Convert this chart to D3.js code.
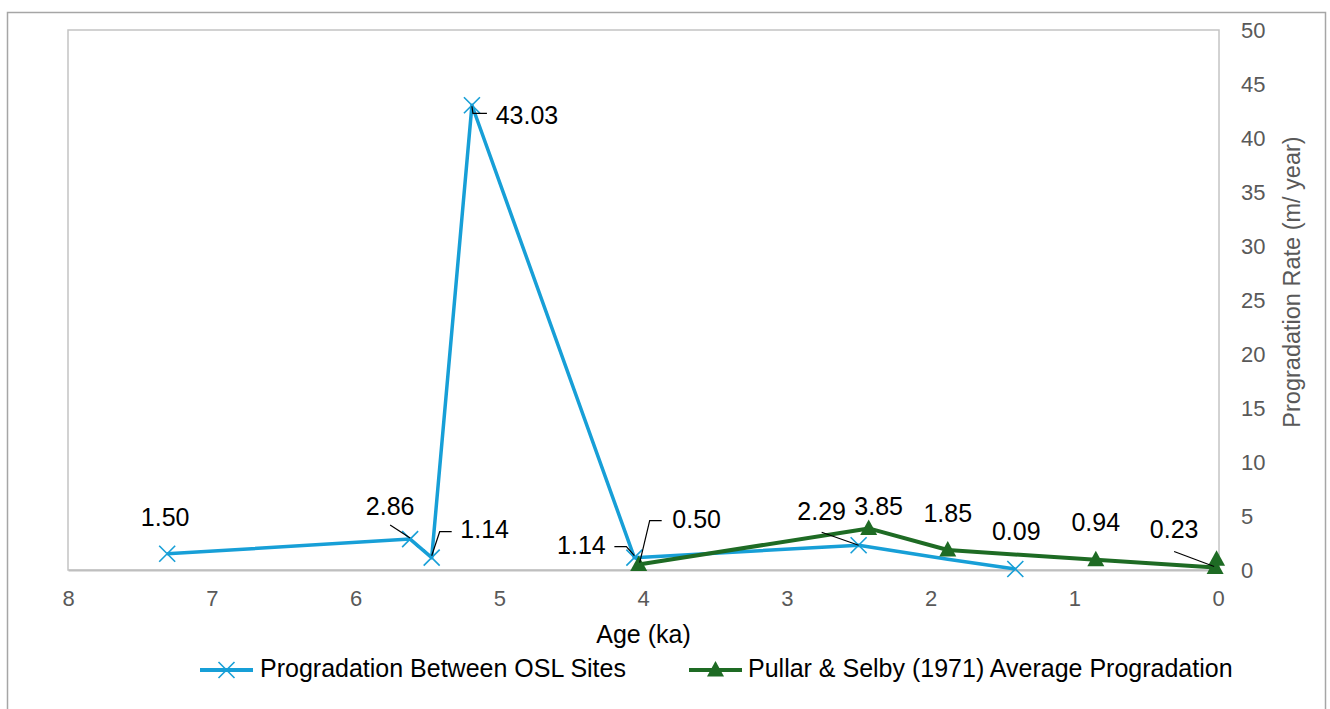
<!DOCTYPE html>
<html>
<head>
<meta charset="utf-8">
<script src="https://cdn.jsdelivr.net/npm/d3@7"></script>
<style>
  body { margin: 0; background: #fff; }
  svg { display: block; font-family: "Liberation Sans", Arial, sans-serif; }
</style>
</head>
<body>
<div id="chart"></div>
<script>
// data
var oslAges   = [7.31, 5.62, 5.47, 5.19, 4.06, 2.50, 1.88, 1.41];
var oslRates  = [1.50, 2.86, 1.14, 43.03, 1.14, 2.29, 1.00, 0.09];
var oslLabels = ["1.50", "2.86", "1.14", "43.03", "1.14", "2.29", "", "0.09"];
var oslMarker = [true, true, true, true, true, true, false, true];

var pullarAges   = [4.03, 2.43, 1.88, 0.85, 0.02, 0.01];
var pullarRates  = [0.50, 3.85, 1.85, 0.94, 0.23, 1.00];
var pullarLabels = ["0.50", "3.85", "1.85", "0.94", "0.23", ""];

var xTicks = [8, 7, 6, 5, 4, 3, 2, 1, 0];
var yTicks = [0, 5, 10, 15, 20, 25, 30, 35, 40, 45, 50];

var seriesNames = ["Progradation Between OSL Sites", "Pullar & Selby (1971) Average Progradation"];

// label placement (pixel offsets from the point) and leader lines
var oslLabelPos = [[-2, -34], [-20, -31], [53, -26], [55, 12], [-53, -10], [-37, -32], null, [1, -36]];
var oslLeaders = [null, [[-20, -14], [0, -1]], [[20, -26], [8, -26], [0, -2]], [[0, 1], [1, 8], [15, 8]],
                  [[-20, -11], [-8, -11], [0, -2]], [[-37, -13], [0, 0]], null, null];
var pullarLabelPos = [[58, -43], [10, -20], [0, -35], [0, -35], [-41, -36], null];
var pullarLeaders = [[[23, -44], [11, -44], [1, -2]], null, null, null, [[-41, -16], [-1, -1]], null];

var W = 1330, H = 709;
var plot = {left: 68, top: 30, right: 1219, bottom: 570};
var blue = "#179fd7", green = "#1e6b24";

var svg = d3.select("#chart").append("svg")
    .attr("width", W).attr("height", H);

// outer chart border
svg.append("rect")
    .attr("x", 7.5).attr("y", 12.5).attr("width", 1318).attr("height", 720)
    .attr("fill", "none").attr("stroke", "#a6a6a6").attr("stroke-width", 1.5);

var x = d3.scaleLinear().domain([8, 0]).range([plot.left, plot.right - 1]);
var y = d3.scaleLinear().domain([0, 50]).range([plot.bottom, plot.top]);

// plot area border
svg.append("rect")
    .attr("x", plot.left).attr("y", plot.top)
    .attr("width", plot.right - plot.left).attr("height", plot.bottom - plot.top)
    .attr("fill", "none").attr("stroke", "#c4c4c4").attr("stroke-width", 1.5);

// x axis
var xAxis = svg.append("g")
    .attr("transform", "translate(0," + plot.bottom + ")")
    .call(d3.axisBottom(x).tickValues(xTicks).tickSize(0).tickPadding(20).tickFormat(d3.format("d")));
xAxis.select(".domain").attr("stroke", "#bfbfbf").attr("stroke-width", 2);
xAxis.selectAll("text").attr("font-size", 22).attr("fill", "#595959")
    .attr("font-family", "Liberation Sans, Arial, sans-serif");

// y axis on the right
var yAxis = svg.append("g")
    .attr("transform", "translate(" + plot.right + ",0)")
    .call(d3.axisRight(y).tickValues(yTicks).tickSize(0).tickPadding(22));
yAxis.select(".domain").remove();
yAxis.selectAll("text").attr("font-size", 22).attr("fill", "#595959")
    .attr("font-family", "Liberation Sans, Arial, sans-serif");

// axis titles
svg.append("text")
    .attr("transform", "translate(1300,282) rotate(-90)")
    .attr("text-anchor", "middle")
    .attr("font-size", 23.5).attr("fill", "#595959")
    .text("Progradation Rate (m/ year)");

svg.append("text")
    .attr("x", (plot.left + plot.right) / 2).attr("y", 636)
    .attr("text-anchor", "middle").attr("dominant-baseline", "middle")
    .attr("font-size", 25).attr("fill", "#000")
    .text("Age (ka)");

var osl = oslAges.map(function(a, i) { return {age: a, rate: oslRates[i], label: oslLabels[i], marker: oslMarker[i], pos: oslLabelPos[i], leader: oslLeaders[i]}; });
var pullar = pullarAges.map(function(a, i) { return {age: a, rate: pullarRates[i], label: pullarLabels[i], pos: pullarLabelPos[i], leader: pullarLeaders[i]}; });

var line = d3.line()
    .x(function(d) { return x(d.age); })
    .y(function(d) { return y(d.rate); });

var crossPath = "M-8,-8L8,8M-8,8L8,-8";
var triPath = "M0,-9L8.5,6.5L-8.5,6.5Z";

svg.append("path").datum(osl)
    .attr("d", line).attr("fill", "none")
    .attr("stroke", blue).attr("stroke-width", 3.5).attr("stroke-linejoin", "round");

svg.append("g").selectAll("path")
    .data(osl.filter(function(d) { return d.marker; }))
    .enter().append("path")
    .attr("transform", function(d) { return "translate(" + x(d.age) + "," + y(d.rate) + ")"; })
    .attr("d", crossPath).attr("stroke", blue).attr("stroke-width", 1.6).attr("fill", "none");

svg.append("path").datum(pullar)
    .attr("d", line).attr("fill", "none")
    .attr("stroke", green).attr("stroke-width", 4).attr("stroke-linejoin", "round");

svg.append("g").selectAll("path")
    .data(pullar)
    .enter().append("path")
    .attr("transform", function(d) { return "translate(" + x(d.age) + "," + y(d.rate) + ")"; })
    .attr("d", triPath).attr("fill", green);

// data labels with leader lines
function drawLabels(data) {
  var g = svg.append("g");
  data.forEach(function(d) {
    var px = x(d.age), py = y(d.rate);
    if (d.leader) {
      g.append("path")
        .attr("d", d3.line()(d.leader.map(function(p) { return [px + p[0], py + p[1]]; })))
        .attr("fill", "none").attr("stroke", "#000").attr("stroke-width", 1.2);
    }
    if (d.label) {
      g.append("text")
        .attr("x", px + d.pos[0]).attr("y", py + d.pos[1])
        .attr("text-anchor", "middle").attr("dominant-baseline", "middle")
        .attr("font-size", 25).attr("fill", "#000")
        .text(d.label);
    }
  });
}
drawLabels(osl);
drawLabels(pullar);

// legend
var legend = svg.append("g").attr("transform", "translate(0,670)");
legend.append("line").attr("x1", 200).attr("x2", 253).attr("y1", 0).attr("y2", 0)
    .attr("stroke", blue).attr("stroke-width", 4);
legend.append("path").attr("transform", "translate(226.5,0)").attr("d", crossPath)
    .attr("stroke", blue).attr("stroke-width", 1.6).attr("fill", "none");
legend.append("text").attr("x", 260).attr("y", 0).attr("dominant-baseline", "middle")
    .attr("font-size", 25).text(seriesNames[0]);

legend.append("line").attr("x1", 689).attr("x2", 742).attr("y1", 0).attr("y2", 0)
    .attr("stroke", green).attr("stroke-width", 4);
legend.append("path").attr("transform", "translate(715.5,0)").attr("d", triPath)
    .attr("fill", green);
legend.append("text").attr("x", 748).attr("y", 0).attr("dominant-baseline", "middle")
    .attr("font-size", 25).text(seriesNames[1]);
</script>
</body>
</html>
